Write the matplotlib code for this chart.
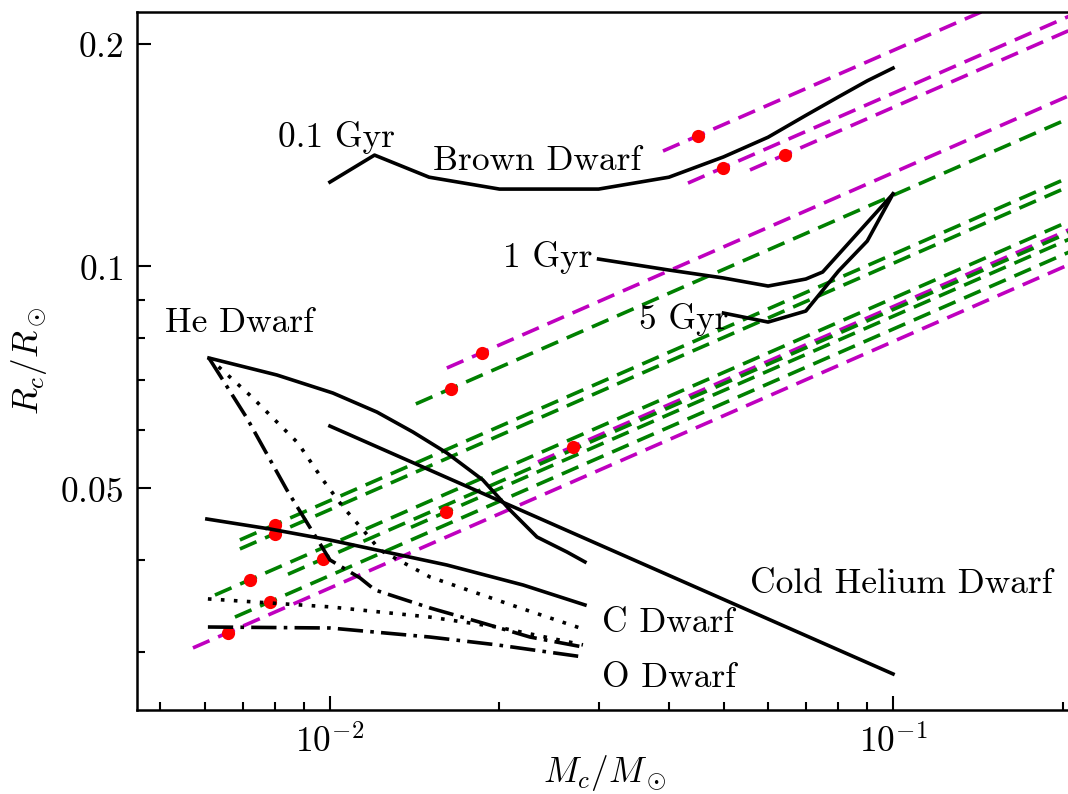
import matplotlib
matplotlib.use("Agg")
import matplotlib.pyplot as plt

plt.rcParams['mathtext.fontset'] = 'cm'
plt.rcParams['axes.unicode_minus'] = False

# ---------------- data ----------------
# Roche-lobe lines (pulsar companions): start at minimum mass, dot at median mass
roche_color = ['m', 'm', 'm', 'm', 'g', 'g', 'g', 'g', 'g', 'm', 'm', 'g', 'g']
roche_m_min = [0.03904, 0.04324, 0.05572, 0.01613, 0.01421, 0.006920, 0.006920,
               0.006249, 0.006781, 0.005711, 0.02341, 0.008423, 0.01393]
roche_r_min = [0.1431, 0.1295, 0.1349, 0.07278, 0.06507, 0.04259, 0.04141,
               0.03587, 0.03349, 0.03042, 0.05431, 0.03827, 0.04430]
roche_m_max = [0.21, 0.21, 0.21, 0.21, 0.21, 0.21, 0.21,
               0.21, 0.21, 0.21, 0.21, 0.21, 0.21]
roche_r_max = [0.2506, 0.2194, 0.2099, 0.1713, 0.1596, 0.1328, 0.1291,
               0.1158, 0.1052, 0.1012, 0.1128, 0.1118, 0.1095]
roche_m_med = [0.04508, 0.04993, 0.06434, 0.01863, 0.01641, 0.007991, 0.007991,
               0.007216, 0.007830, 0.006594, 0.02703, 0.009726, 0.01609]
roche_r_med = [0.1501, 0.1359, 0.1415, 0.07635, 0.06826, 0.04468, 0.04344,
               0.03763, 0.03513, 0.03191, 0.05698, 0.04015, 0.04647]

# Brown dwarf isochrones
bd01_m = [0.01, 0.012, 0.015, 0.02, 0.03, 0.04, 0.05, 0.06, 0.07, 0.08, 0.09, 0.1]
bd01_r = [0.1299, 0.1413, 0.1319, 0.1271, 0.1271, 0.1319, 0.1405, 0.1494,
          0.1599, 0.1694, 0.1781, 0.1853]
bd1_m = [0.03, 0.04, 0.05, 0.06, 0.07, 0.075, 0.1]
bd1_r = [0.1022, 0.09876, 0.09634, 0.09396, 0.09603, 0.09815, 0.1252]
bd5_m = [0.05, 0.06, 0.07, 0.08, 0.09, 0.1]
bd5_r = [0.08637, 0.08398, 0.08691, 0.09845, 0.1081, 0.1252]

# He dwarf (solid)
he_m = [0.006097, 0.008049, 0.01012, 0.01212, 0.01404, 0.01613, 0.01869,
        0.02088, 0.02332, 0.02636, 0.02837]
he_r = [0.07508, 0.07121, 0.06732, 0.06344, 0.05962, 0.05585, 0.05134,
        0.04676, 0.04298, 0.04102, 0.03977]
# Cold helium dwarf
che_m = [0.01, 0.03, 0.1]
che_r = [0.06073, 0.04200, 0.02805]
# C dwarf (solid, lower)
cs_m = [0.006046, 0.007823, 0.01, 0.01613, 0.02203, 0.02837]
cs_r = [0.04546, 0.04407, 0.04258, 0.03939, 0.03701, 0.03478]
# dotted curves
dot1_m = [0.006097, 0.007268, 0.008773, 0.009718, 0.01055, 0.01145, 0.01227,
          0.01505, 0.02149, 0.02780]
dot1_r = [0.07508, 0.06649, 0.05761, 0.05134, 0.04720, 0.04393, 0.04127,
          0.03795, 0.03457, 0.03237]
dot2_m = [0.006071, 0.01, 0.01505, 0.01980, 0.02814]
dot2_r = [0.03544, 0.03457, 0.03349, 0.03247, 0.03071]
# dash-dot curves
dd1_m = [0.006097, 0.007121, 0.008386, 0.01, 0.01131, 0.01202, 0.01505,
         0.01869, 0.02266, 0.02814]
dd1_r = [0.07508, 0.06226, 0.04976, 0.04002, 0.03783, 0.03644, 0.03446,
         0.03287, 0.03147, 0.03051]
dd2_m = [0.006071, 0.01, 0.01505, 0.01980, 0.02814]
dd2_r = [0.03247, 0.03237, 0.03147, 0.03071, 0.02958]

label_text = ['0.1 Gyr', 'Brown Dwarf', '1 Gyr', '5 Gyr', 'He Dwarf',
              'Cold Helium Dwarf', 'C Dwarf', 'O Dwarf']
label_m = [0.008085, 0.01524, 0.02029, 0.03538, 0.005092, 0.05572, 0.03041, 0.03041]
label_r = [0.1449, 0.1349, 0.09969, 0.08219, 0.08143, 0.03611, 0.03197, 0.02694]

y_ticks = [0.05, 0.1, 0.2]
y_ticklabels = ['$0.05$', '$0.1$', '$0.2$']
y_minor = [0.03, 0.04, 0.06, 0.07, 0.08, 0.09]
x_ticks = [0.01, 0.1]
x_ticklabels = ['$10^{-2}$', '$10^{-1}$']
x_minor = [0.005, 0.006, 0.007, 0.008, 0.009, 0.02, 0.03, 0.04, 0.05,
           0.06, 0.07, 0.08, 0.09, 0.2]

# ---------------- figure ----------------
W, H = 1068, 794
fig = plt.figure(figsize=(W / 100, H / 100), dpi=100)
ax = fig.add_axes([137 / W, 1 - 710 / H, (1072 - 137) / W, (710 - 12) / H])
ax.set_xscale('log')
ax.set_yscale('log')

LW = 2.6
dash = (0, (5, 2.6))
for c, m0, r0, m1, r1, md, rd in zip(roche_color, roche_m_min, roche_r_min,
                                      roche_m_max, roche_r_max,
                                      roche_m_med, roche_r_med):
    ax.plot([m0, m1], [r0, r1], color=c, lw=LW, linestyle=dash, zorder=2)
    ax.plot([md], [rd], 'o', color='r', ms=9.5, mew=0, zorder=2.5)

kw = dict(color='k', lw=LW, zorder=3)
ax.plot(bd01_m, bd01_r, '-', **kw)
ax.plot(bd1_m, bd1_r, '-', **kw)
ax.plot(bd5_m, bd5_r, '-', **kw)
ax.plot(he_m, he_r, '-', **kw)
ax.plot(che_m, che_r, '-', **kw)
ax.plot(cs_m, cs_r, '-', **kw)
ax.plot(dot1_m, dot1_r, linestyle=(0, (1, 2.6)), **kw)
ax.plot(dot2_m, dot2_r, linestyle=(0, (1, 2.6)), **kw)
ax.plot(dd1_m, dd1_r, linestyle=(0, (7, 2, 1, 2)), **kw)
ax.plot(dd2_m, dd2_r, linestyle=(0, (7, 2, 1, 2)), **kw)

FS = 25.5
for t, m, r in zip(label_text, label_m, label_r):
    ax.text(m, r, t, fontsize=FS, family='cmr10', ha='left', va='baseline',
            zorder=4)

ax.set_xlim(0.004543, 0.20791)
ax.set_ylim(0.02507, 0.2207)

ax.set_yticks(y_ticks)
ax.set_yticklabels(y_ticklabels)
ax.set_yticks(y_minor, minor=True)
ax.set_yticklabels([], minor=True)
ax.set_xticks(x_ticks)
ax.set_xticklabels(x_ticklabels)
ax.set_xticks(x_minor, minor=True)
ax.set_xticklabels([], minor=True)

ax.tick_params(which='both', direction='in', top=False, right=False,
               labelsize=FS, width=1.5)
ax.tick_params(which='major', length=10, pad=10)
ax.tick_params(which='minor', length=6)
for s in ax.spines.values():
    s.set_linewidth(1.8)

ax.set_xlabel(r'$M_c/M_\odot$', fontsize=FS, labelpad=-4)
ax.set_ylabel(r'$R_c/R_\odot$', fontsize=FS, labelpad=8)

fig.savefig('out.png', dpi=100)
